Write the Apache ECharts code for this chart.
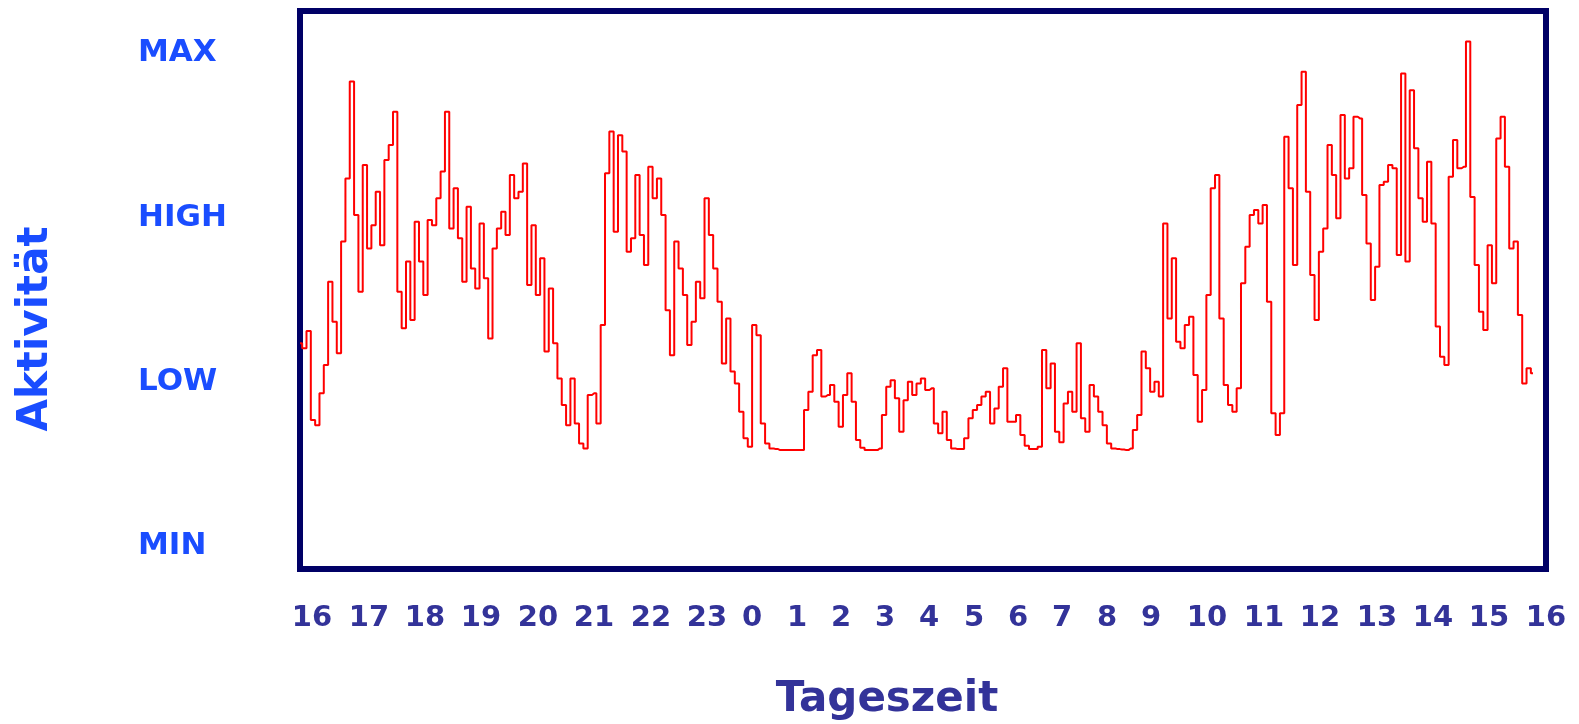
<!DOCTYPE html>
<html><head><meta charset="utf-8">
<script src="https://cdn.jsdelivr.net/npm/echarts@6/dist/echarts.min.js"></script>
<style>html,body{margin:0;padding:0;background:#fff}#c{width:1579px;height:724px}</style>
</head><body><div id="c"></div>
<script>
// Activity level sampled every 5 minutes, starting 16:00 (MIN=0, LOW=500, HIGH=1000, MAX=1500)
const stepMinutes = 5;
const activity = [
  608, 593, 646, 375, 359, 456, 542, 796, 674, 578, 918, 1110, 1405, 999, 765, 1151, 897, 968, 1070, 907, 1166, 1212, 1313, 765, 654, 857, 679, 978, 857, 755, 984, 968, 1050, 1131, 1313, 958, 1080, 928, 796, 1024, 836, 775, 973, 806, 623, 897, 958, 1009,
  938, 1121, 1050, 1070, 1156, 786, 968, 755, 867, 583, 775, 608, 501, 420, 359, 501, 364, 303, 288, 451, 456, 364, 664, 1126, 1253, 948, 1242, 1192, 887, 928, 1121, 938, 847, 1146, 1050, 1110, 999, 709, 572, 918, 836, 755, 603, 674, 796, 745, 1050, 938,
  836, 735, 547, 684, 522, 486, 400, 319, 293, 664, 633, 364, 303, 288, 286, 283, 283, 283, 283, 283, 283, 405, 461, 572, 588, 446, 451, 481, 430, 354, 451, 517, 430, 314, 290, 283, 283, 283, 288, 390, 476, 496, 441, 339, 435, 491, 451, 486,
  501, 466, 471, 364, 334, 400, 314, 288, 286, 286, 319, 380, 405, 420, 446, 461, 364, 410, 476, 532, 369, 369, 390, 329, 296, 286, 286, 293, 588, 471, 547, 339, 307, 425, 461, 400, 608, 380, 339, 481, 446, 400, 359, 303, 288, 286, 285, 283,
  288, 344, 390, 583, 532, 461, 491, 446, 973, 684, 867, 613, 593, 664, 689, 512, 369, 466, 755, 1080, 1121, 684, 481, 420, 400, 471, 791, 902, 999, 1014, 973, 1029, 735, 395, 329, 395, 1237, 1080, 847, 1334, 1435, 1070, 816, 679, 887, 958, 1212, 1121,
  989, 1303, 1110, 1141, 1298, 1293, 1060, 912, 740, 841, 1090, 1100, 1151, 1141, 877, 1430, 857, 1379, 1202, 1050, 978, 1161, 973, 659, 567, 542, 1115, 1227, 1141, 1146, 1527, 1054, 847, 704, 649, 907, 791, 1232, 1298, 1146, 897, 918, 694, 486, 532, 517
];
const levelLabels = ['MIN', 'LOW', 'HIGH', 'MAX'];
const levelValues = [0, 500, 1000, 1500];
const hourLabels = ['16','17','18','19','20','21','22','23','0','1','2','3','4','5','6','7','8','9','10','11','12','13','14','15','16'];
// where each hour label sits along the axis (hours after 16:00), as printed in the original
const hourLabelPos = [0.231,1.329,2.408,3.486,4.584,5.663,6.761,7.839,8.706,9.573,10.420,11.268,12.115,12.982,13.830,14.677,15.544,16.392,17.470,18.568,19.647,20.745,21.823,22.902,24.0];

const chart = echarts.init(document.getElementById('c'), null, {renderer: 'canvas'});
const seriesData = activity.map((v, i) => [i * stepMinutes / 60, v]);
function nearestIdx(arr, v) {
  let best = 0, bd = Infinity;
  arr.forEach((a, i) => { const d = Math.abs(a - v); if (d < bd) { bd = d; best = i; } });
  return best;
}
chart.setOption({
  animation: false,
  backgroundColor: '#ffffff',
  grid: {left: 300, right: 33, top: 11, bottom: 155, show: true, borderColor: '#000066', borderWidth: 6, backgroundColor: 'transparent'},
  xAxis: {
    type: 'value', min: 0, max: 24,
    axisLine: {show: false}, axisTick: {show: false}, splitLine: {show: false},
    axisLabel: {
      customValues: hourLabelPos,
      formatter: v => hourLabels[nearestIdx(hourLabelPos, v)],
      color: '#333399', fontFamily: 'DejaVu Sans', fontWeight: 'bold', fontSize: 29, margin: 35
    }
  },
  yAxis: {
    type: 'value', min: -79, max: 1620,
    axisLine: {show: false}, axisTick: {show: false}, splitLine: {show: false},
    axisLabel: {
      customValues: levelValues,
      formatter: v => levelLabels[nearestIdx(levelValues, v)],
      align: 'left', verticalAlign: 'top', lineHeight: 6, margin: 162,
      color: '#1a4dff', fontFamily: 'DejaVu Sans', fontWeight: 'bold', fontSize: 31
    }
  },
  series: [{
    type: 'line', data: seriesData, step: 'middle', showSymbol: false,
    lineStyle: {color: '#ff0000', width: 2}
  }],
  graphic: [
    {type: 'text', x: 36, y: 329, rotation: Math.PI / 2,
     style: {text: 'Aktivität', font: 'bold 42px "DejaVu Sans"', fill: '#1a4dff', align: 'center', verticalAlign: 'middle'}},
    {type: 'text', x: 887, y: 700,
     style: {text: 'Tageszeit', font: 'bold 42px "DejaVu Sans"', fill: '#333399', align: 'center', verticalAlign: 'middle'}}
  ]
});
</script></body></html>
